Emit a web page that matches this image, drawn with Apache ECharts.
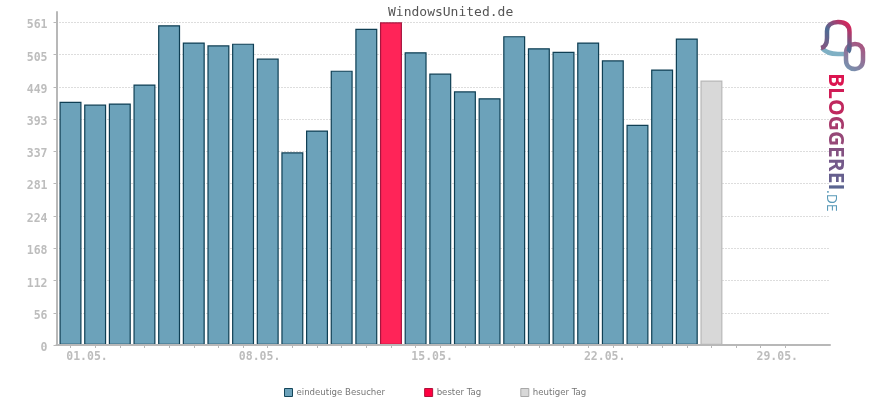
<!DOCTYPE html>
<html>
<head>
<meta charset="utf-8">
<style>html,body{margin:0;padding:0;background:#fff}#chart{width:870px;height:400px}</style>
<script src="https://cdn.jsdelivr.net/npm/echarts@6/dist/echarts.min.js"></script>
</head>
<body>
<div id="chart"></div>
<script>
// Besucher pro Tag
var days = [1,2,3,4,5,6,7,8,9,10,11,12,13,14,15,16,17,18,19,20,21,22,23,24,25,26,27];
var visitors = [423,418,420,453,556,526,521,524,498,335,373,477,550,561,509,472,441,429,537,516,510,526,495,383,479,533,460];
var bestDay = 14;
var today = 27;
var yTicks = [0,56,112,168,224,281,337,393,449,505,561];
var xTicks = [1,2,3,4,5,6,7,8,9,10,11,12,13,14,15,16,17,18,19,20,21,22,23,24,25,26,27,28,29,30];
var xLabelDays = [1,8,15,22,29];
var logoLetters = ['B','L','O','G','G','E','R','E','I'];
var logoColors = ['#dc1550','#d01c56','#c0285e','#a83a6c','#964878','#845282','#74598a','#665f8e','#5a6490'];

function pick(test) {
	var out = [];
	days.forEach(function(d, i) {
		if (test(d)) out.push([d, visitors[i]]);
	});
	return out;
}
function dayLabel(d) {
	return (d < 10 ? '0' + d : d) + '.05.';
}

var axisGrey = '#b8b8b8';
var tickFont = {color: '#bdbdbd', fontFamily: 'DejaVu Sans Mono', fontWeight: 'bold', fontSize: 11.5};

// Logo-Formen
echarts.graphic.registerShape('logoBubble', echarts.graphic.extendPath('M821 48 C826 47 827 43 827 38 L827 31 C827 25 832 22 838 22 C845 22 849.5 25 849.5 32 L849.5 46 C849.5 49 849 51 848 52', {}));
echarts.graphic.registerShape('logoBase', echarts.graphic.extendPath('M822 48 C826 53 832 54 838 54 L848 54', {}));
echarts.graphic.registerShape('logoLink', echarts.graphic.extendPath('M846 53 C846 47 850 44 855 44 C860 44 863 47 863 52 L863 60 C863 66 859 69 855 69 C850 69 846 66 846 60 Z', {}));

// jeder Buchstabe bekommt eine eigene Farbe, Text kann keinen Verlauf
var logoRich = {};
var logoText = logoLetters.map(function(ch, i) {
	logoRich['c' + i] = {fill: logoColors[i], font: 'bold 21px "Open Sans"'};
	return '{c' + i + '|' + ch + '}';
}).join('');

var option = {
	animation: false,
	grid: {left: 56.5, right: 40, top: 12, bottom: 55},
	title: {
		text: 'WindowsUnited.de',
		left: 383, top: 1,
		textStyle: {fontFamily: 'DejaVu Sans Mono', fontWeight: 'normal', fontSize: 13, color: '#555'}
	},
	legend: {
		left: 284, top: 388, padding: 0,
		itemWidth: 8, itemHeight: 8, itemGap: 39,
		textStyle: {fontFamily: 'DejaVu Sans', fontSize: 8.6, color: '#777', padding: [0, 0, 0, -1]},
		data: [
			{name: 'eindeutige Besucher', icon: 'rect', itemStyle: {color: '#6ca2ba', borderColor: '#14465a', borderWidth: 1}},
			{name: 'bester Tag', icon: 'rect', itemStyle: {color: '#ff0040', borderColor: '#b0103a', borderWidth: 1}},
			{name: 'heutiger Tag', icon: 'rect', itemStyle: {color: '#d8d8d8', borderColor: '#a8a8a8', borderWidth: 1}}
		]
	},
	xAxis: {
		type: 'value',
		min: 0.432,
		max: 31.81,
		z: 3,
		axisLine: {onZero: false, lineStyle: {color: axisGrey, width: 2}},
		axisTick: {show: true, length: 3, lineStyle: {color: axisGrey}, customValues: xTicks},
		axisLabel: Object.assign({
			customValues: xLabelDays,
			formatter: dayLabel,
			align: 'center',
			padding: [0, 0, 0, 33],
			margin: 6
		}, tickFont),
		splitLine: {show: false}
	},
	yAxis: {
		type: 'value',
		min: 0,
		max: 579,
		axisLine: {show: true, lineStyle: {color: axisGrey, width: 2}},
		axisTick: {show: true, length: 3, lineStyle: {color: axisGrey}, customValues: yTicks},
		axisLabel: Object.assign({
			customValues: yTicks,
			margin: 9,
			verticalAlign: 'top',
			lineHeight: 6
		}, tickFont),
		splitLine: {show: true, lineStyle: {color: '#bbbbbb', type: [1, 2], width: 1}}
	},
	series: [
		{
			name: 'eindeutige Besucher', type: 'bar', barWidth: 22, barGap: '-100%',
			itemStyle: {color: '#6ca2ba', borderColor: '#0f3f54', borderWidth: 1.2},
			data: pick(function(d) { return d != bestDay && d != today; })
		},
		{
			name: 'bester Tag', type: 'bar', barWidth: 22, barGap: '-100%',
			itemStyle: {color: '#ff2458', borderColor: '#a8163f', borderWidth: 1.2},
			data: pick(function(d) { return d == bestDay; })
		},
		{
			name: 'heutiger Tag', type: 'bar', barWidth: 22, barGap: '-100%',
			itemStyle: {color: '#d8d8d8', borderColor: '#b8b8b8', borderWidth: 1.2},
			data: pick(function(d) { return d == today; })
		}
	],
	graphic: [
		{
			type: 'logoBase', z: 9,
			style: {fill: null, lineWidth: 4.5, stroke: '#7fb0c4'}
		},
		{
			type: 'logoLink', z: 9,
			style: {
				fill: null, lineWidth: 4.5,
				stroke: new echarts.graphic.LinearGradient(0, 1, 1, 0, [
					{offset: 0, color: '#6f9db8'}, {offset: 1, color: '#b04a78'}
				])
			}
		},
		{
			type: 'logoBubble', z: 10,
			style: {
				fill: null, lineWidth: 4.5,
				stroke: new echarts.graphic.LinearGradient(0, 1, 1, 0, [
					{offset: 0, color: '#a04a78'}, {offset: 0.5, color: '#4d6c94'}, {offset: 1, color: '#ff0f4a'}
				])
			}
		},
		{
			type: 'text', z: 10, x: 824.5, y: 73, rotation: -Math.PI / 2,
			style: {
				text: logoText, rich: logoRich, textAlign: 'left', textVerticalAlign: 'bottom',
				font: 'bold 21px "Open Sans"'
			}
		},
		{
			type: 'text', z: 10, x: 824, y: 190, rotation: -Math.PI / 2,
			style: {
				text: '.DE', textAlign: 'left', textVerticalAlign: 'bottom',
				font: '14px "Open Sans"', fill: '#5a9ab8'
			}
		}
	]
};

var myChart = echarts.init(document.getElementById('chart'));
myChart.setOption(option);
</script>
</body>
</html>
